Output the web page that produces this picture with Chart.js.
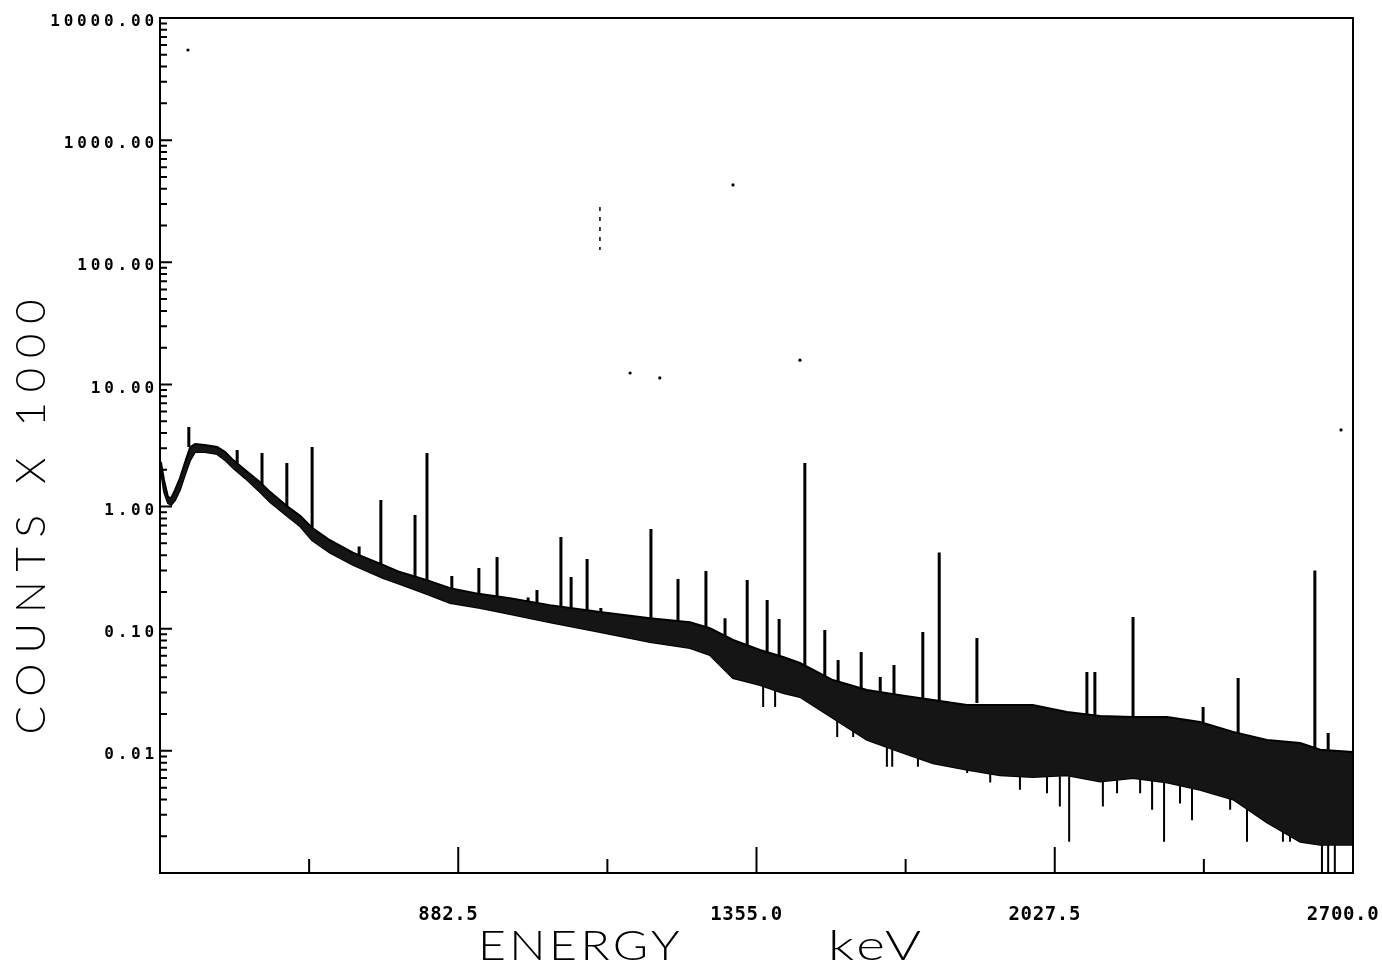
<!DOCTYPE html>
<html>
<head>
<meta charset="utf-8">
<title>Gamma spectrum</title>
<script src="https://cdn.jsdelivr.net/npm/chart.js@4.4.1/dist/chart.umd.min.js"></script>
<style>
  html, body { margin: 0; padding: 0; background: #fff; }
  #wrap { width: 1382px; height: 965px; }
</style>
</head>
<body>
<div id="wrap"><canvas id="spectrum" width="1382" height="965"></canvas></div>
<script>
// ----- DATA (energy in keV, counts x 1000) -----
// continuum band: upper and lower envelope of the noisy trace
const bandEnergy = [12, 19, 28, 35, 44, 55, 66, 78, 89, 111, 139, 157, 175, 202, 235, 258, 296, 326, 353, 393,
  445, 513, 551, 612, 664, 732, 799, 889, 1002, 1115, 1205, 1250, 1302, 1363, 1415, 1453, 1527, 1604, 1679, 1753,
  1830, 1904, 1978, 2055, 2130, 2204, 2281, 2355, 2430, 2506, 2581, 2626, 2700]
const bandUpper = [2.32, 1.65, 1.20, 1.17, 1.37, 1.71, 2.27, 3.07, 3.25, 3.19, 3.07, 2.80, 2.40, 1.99, 1.59, 1.32, 1.01, 0.84, 0.67, 0.53,
  0.42, 0.333, 0.291, 0.25, 0.215, 0.192, 0.178, 0.156, 0.137, 0.122, 0.113, 0.101, 0.081, 0.067, 0.0586, 0.0524, 0.038, 0.0315, 0.0286, 0.0261,
  0.0237, 0.0237, 0.0237, 0.0208, 0.0193, 0.0189, 0.0189, 0.0172, 0.0143, 0.0123, 0.0116, 0.0102, 0.0098]
const bandLower = [1.99, 1.32, 1.07, 1.03, 1.13, 1.37, 1.81, 2.40, 2.80, 2.80, 2.69, 2.40, 2.07, 1.71, 1.32, 1.09, 0.84, 0.69, 0.53, 0.42,
  0.333, 0.26, 0.232, 0.192, 0.162, 0.148, 0.132, 0.113, 0.094, 0.078, 0.0695, 0.061, 0.0395, 0.0346, 0.0297, 0.0276, 0.0186, 0.0123, 0.0098, 0.0079,
  0.0070, 0.0063, 0.0061, 0.0063, 0.0056, 0.0060, 0.0055, 0.0048, 0.0040, 0.0026, 0.0018, 0.0017, 0.0017]

// photopeaks: foot on the continuum, top of the line
const peakEnergy = [75, 184, 240, 296, 353, 459, 508, 585, 612, 668, 729, 770, 840, 860, 914, 937, 973, 1004, 1034, 1117,
  1178, 1241, 1284, 1334, 1379, 1406, 1464, 1509, 1539, 1591, 1634, 1665, 1730, 1767, 1852, 2100, 2118, 2204, 2362, 2441,
  2614, 2644]
const peakTop = [4.48, 2.90, 2.75, 2.27, 3.07, 0.47, 1.13, 0.853, 2.75, 0.27, 0.314, 0.386, 0.18, 0.207, 0.563, 0.265, 0.372, 0.148, 0.129, 0.655,
  0.255, 0.297, 0.122, 0.25, 0.172, 0.12, 2.27, 0.0975, 0.0554, 0.0645, 0.0403, 0.0505, 0.094, 0.42, 0.084, 0.0442, 0.0442, 0.125, 0.0229, 0.0395,
  0.30, 0.014]
const peakFoot = [3.07, 2.15, 1.37, 0.94, 0.643, 0.379, 0.333, 0.265, 0.25, 0.207, 0.189, 0.18, 0.159, 0.156, 0.151, 0.148, 0.142, 0.132, 0.125, 0.12,
  0.113, 0.103, 0.0855, 0.0736, 0.0645, 0.0598, 0.0505, 0.041, 0.0359, 0.0327, 0.0303, 0.0292, 0.0271, 0.0261, 0.0247, 0.020, 0.0196, 0.0193, 0.0172, 0.014,
  0.0105, 0.0102]

// low-count channels dropping below the band
const dipEnergy = [1370, 1397, 1537, 1573, 1649, 1661, 1719, 1830, 1882, 1949, 2010, 2039, 2060, 2136, 2168, 2220, 2247, 2274, 2310, 2337,
  2423, 2461, 2542, 2558, 2630, 2644, 2659]
const dipTop = [0.034, 0.0315, 0.0179, 0.0147, 0.0112, 0.011, 0.0092, 0.0077, 0.0070, 0.0063, 0.0062, 0.0062, 0.0062, 0.0058, 0.0058, 0.0060, 0.0058, 0.0056, 0.0052, 0.0049,
  0.0041, 0.0036, 0.00225, 0.00225, 0.0017, 0.0017, 0.0017]
const dipBottom = [0.0229, 0.0229, 0.013, 0.013, 0.0074, 0.0074, 0.0074, 0.0066, 0.0055, 0.0048, 0.0045, 0.0035, 0.0018, 0.0035, 0.0045, 0.0045, 0.0033, 0.0018, 0.0037, 0.0027,
  0.0033, 0.0018, 0.0018, 0.0018, 0.001, 0.001, 0.001]

// stray marks on the sheet
const speckEnergy = [73, 1302, 1070, 1137, 1453, 2673]
const speckCounts = [5470, 430, 12.4, 11.3, 15.8, 4.24]
const streakEnergy = [1002, 1002]
const streakCounts = [284, 126]

// axes
const xMin = 10
const xMax = 2700
const xMajorTicks = [682.5, 1355.0, 2027.5, 2700.0]
const xMinorTicks = [346.25, 1018.75, 1691.25, 2363.75]
const xTickLabels = ['882.5', '1355.0', '2027.5', '2700.0']
const yMin = 0.001
const yMax = 10000
const yTickValues = [10000, 1000, 100, 10, 1, 0.1, 0.01]
const yTickLabels = ['10000.00', '1000.00', '100.00', '10.00', '1.00', '0.10', '0.01']

// ----- HELPERS -----
const toPoints = (xs, ys) => xs.map((x, i) => ({ x, y: ys[i] }))

// vertical strokes separated by gaps
function strokes(xs, from, to) {
  const pts = []
  xs.forEach((x, i) => {
    pts.push({ x, y: from[i] }, { x, y: to[i] }, { x, y: null })
  })
  return pts
}

// spread the letters of a text over a given width
function spacedText(ctx, text, x, y, width) {
  ctx.letterSpacing = '0px'
  const w = ctx.measureText(text).width
  const gap = text.length > 1 ? (width - w) / (text.length - 1) : 0
  ctx.letterSpacing = gap + 'px'
  ctx.fillText(text, x, y)
  ctx.letterSpacing = '0px'
}

// widen the glyphs themselves so the text covers a given width (left aligned)
function stretchedText(ctx, text, x, y, width, gap) {
  ctx.letterSpacing = gap + 'px'
  const w = ctx.measureText(text).width
  ctx.save()
  ctx.translate(x, y)
  ctx.scale(width / w, 1)
  ctx.textAlign = 'left'
  ctx.fillText(text, 0, 0)
  ctx.restore()
  ctx.letterSpacing = '0px'
}

// ----- AXIS DECORATION -----
const axisMarks = {
  id: 'axisMarks',
  afterDraw(chart) {
    const { ctx, chartArea: a } = chart
    const xs = chart.scales.x
    const ys = chart.scales.y
    ctx.save()
    ctx.strokeStyle = '#000'
    ctx.fillStyle = '#000'
    ctx.lineWidth = 2

    // top and right side of the frame
    ctx.beginPath()
    ctx.moveTo(a.left, a.top)
    ctx.lineTo(a.right, a.top)
    ctx.lineTo(a.right, a.bottom)
    ctx.stroke()

    // y ticks point inwards, 2..9 in every decade
    ctx.beginPath()
    for (let d = yMin; d < yMax; d *= 10) {
      const yp = ys.getPixelForValue(d)
      ctx.moveTo(a.left, yp)
      ctx.lineTo(a.left + 12, yp)
      for (let m = 2; m <= 9; m++) {
        const ym = ys.getPixelForValue(d * m)
        ctx.moveTo(a.left, ym)
        ctx.lineTo(a.left + 7, ym)
      }
    }
    ctx.stroke()

    // x ticks point up from the energy axis
    ctx.beginPath()
    xMajorTicks.forEach((v) => {
      const xp = xs.getPixelForValue(v)
      ctx.moveTo(xp, a.bottom)
      ctx.lineTo(xp, a.bottom - 26)
    })
    xMinorTicks.forEach((v) => {
      const xp = xs.getPixelForValue(v)
      ctx.moveTo(xp, a.bottom)
      ctx.lineTo(xp, a.bottom - 14)
    })
    ctx.stroke()

    // tick labels
    ctx.font = 'bold 16px "DejaVu Sans Mono", monospace'
    ctx.textBaseline = 'middle'
    ctx.textAlign = 'right'
    yTickValues.forEach((v, i) => {
      const label = yTickLabels[i]
      const yp = ys.getPixelForValue(v) + 4
      spacedText(ctx, label, a.left - 2, yp, label.length * 13.5 - 4)
    })

    ctx.font = 'bold 19px "DejaVu Sans Mono", monospace'
    ctx.textAlign = 'center'
    xMajorTicks.forEach((v, i) => {
      const label = xTickLabels[i]
      const xp = xs.getPixelForValue(v) - 10
      spacedText(ctx, label, xp, a.bottom + 42, label.length * 12.5 - 3)
    })

    // axis titles
    ctx.font = '300 42px Lato, "Liberation Sans", sans-serif'
    ctx.textBaseline = 'alphabetic'
    ctx.textAlign = 'left'
    stretchedText(ctx, 'ENERGY', a.left + 318, a.bottom + 87, 205, 3)
    stretchedText(ctx, 'keV', a.left + 668, a.bottom + 87, 97, 3)

    ctx.translate(a.left - 115, 512)
    ctx.rotate(-Math.PI / 2)
    ctx.textAlign = 'center'
    spacedText(ctx, 'COUNTS X 1000', 0, 0, 435)
    ctx.restore()
  },
}

// ----- CHART -----
const chart = new Chart(document.getElementById('spectrum').getContext('2d'), {
  type: 'line',
  data: {
    datasets: [
      {
        label: 'band upper',
        data: toPoints(bandEnergy, bandUpper),
        borderColor: '#000',
        borderWidth: 2,
        backgroundColor: '#151515',
        fill: '+1',
        pointRadius: 0,
      },
      {
        label: 'band lower',
        data: toPoints(bandEnergy, bandLower),
        borderColor: '#000',
        borderWidth: 2,
        fill: false,
        pointRadius: 0,
      },
      {
        label: 'peaks',
        data: strokes(peakEnergy, peakFoot, peakTop),
        borderColor: '#000',
        borderWidth: 3,
        fill: false,
        pointRadius: 0,
        spanGaps: false,
      },
      {
        label: 'dips',
        data: strokes(dipEnergy, dipTop, dipBottom),
        borderColor: '#000',
        borderWidth: 2,
        fill: false,
        pointRadius: 0,
        spanGaps: false,
      },
      {
        label: 'streak',
        data: toPoints(streakEnergy, streakCounts),
        borderColor: '#000',
        borderWidth: 1.5,
        borderDash: [4, 6],
        fill: false,
        pointRadius: 0,
      },
      {
        label: 'specks',
        type: 'scatter',
        data: toPoints(speckEnergy, speckCounts),
        backgroundColor: '#000',
        borderWidth: 0,
        pointRadius: 1.6,
        showLine: false,
      },
    ],
  },
  options: {
    responsive: false,
    animation: false,
    events: [],
    layout: { padding: { top: 18, right: 29, bottom: 0, left: 0 } },
    plugins: { legend: { display: false }, tooltip: { enabled: false } },
    scales: {
      x: {
        type: 'linear',
        min: xMin,
        max: xMax,
        ticks: { display: false },
        grid: { display: false },
        border: { display: true, color: '#000', width: 2 },
        afterFit: (s) => { s.height = 92 },
      },
      y: {
        type: 'logarithmic',
        min: yMin,
        max: yMax,
        ticks: { display: false },
        grid: { display: false },
        border: { display: true, color: '#000', width: 2 },
        afterFit: (s) => { s.width = 160 },
      },
    },
  },
  plugins: [axisMarks],
})
</script>
</body>
</html>
